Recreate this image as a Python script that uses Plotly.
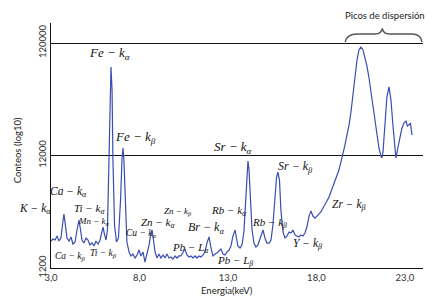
import plotly.graph_objects as go

# Spectrum (energy in keV, counts)
energy_kev = [3.00, 3.11, 3.23, 3.34, 3.45, 3.56, 3.65, 3.73, 3.82, 3.90,
              4.02, 4.13, 4.24, 4.36, 4.47, 4.58, 4.67, 4.75, 4.86, 4.98,
              5.09, 5.20, 5.32, 5.43, 5.54, 5.66, 5.77, 5.85, 5.94, 6.02,
              6.11, 6.19, 6.28, 6.33, 6.39, 6.45, 6.50, 6.59, 6.70, 6.81,
              6.93, 7.01, 7.07, 7.12, 7.21, 7.29, 7.41, 7.52, 7.63, 7.75,
              7.86, 7.97, 8.08, 8.20, 8.31, 8.42, 8.54, 8.62, 8.71, 8.79,
              8.88, 8.99, 9.10, 9.21, 9.33, 9.44, 9.55, 9.67, 9.78, 9.89,
              10.01, 10.12, 10.23, 10.34, 10.46, 10.57, 10.68, 10.80, 10.91, 11.02,
              11.14, 11.25, 11.36, 11.47, 11.59, 11.70, 11.81, 11.93, 12.04, 12.15,
              12.27, 12.38, 12.49, 12.60, 12.72, 12.83, 12.94, 13.06, 13.17, 13.28,
              13.40, 13.48, 13.56, 13.68, 13.79, 13.90, 13.99, 14.07, 14.13, 14.19,
              14.27, 14.36, 14.47, 14.58, 14.69, 14.81, 14.92, 14.98, 15.09, 15.20,
              15.32, 15.43, 15.54, 15.66, 15.74, 15.82, 15.91, 15.99, 16.11, 16.22,
              16.33, 16.45, 16.56, 16.67, 16.79, 16.90, 17.01, 17.12, 17.24, 17.35,
              17.46, 17.58, 17.69, 17.80, 17.92, 18.03, 18.14, 18.25, 18.37, 18.48,
              18.59, 18.71, 18.82, 18.93, 19.05, 19.16, 19.27, 19.38, 19.50, 19.61,
              19.72, 19.84, 19.95, 20.06, 20.18, 20.29, 20.40, 20.51, 20.63, 20.74,
              20.85, 20.97, 21.08, 21.19, 21.31, 21.42, 21.53, 21.64, 21.70, 21.76,
              21.87, 21.98, 22.10, 22.21, 22.32, 22.44, 22.49, 22.60, 22.72, 22.83,
              22.94, 23.06, 23.14, 23.23, 23.31, 23.40]

counts = [2085, 2173, 2128, 2307, 2085, 2218, 2891, 3622, 2830, 2218,
          2085, 2265, 1960, 2042, 2612, 3206, 2612, 2128, 2000, 2218,
          2128, 1919, 2000, 1884, 2085, 1960, 2128, 2506, 2775, 2405,
          2128, 2612, 10940, 41400, 73450, 45810, 10940, 2891, 2042, 2218,
          4820, 10940, 13990, 10940, 3936, 2042, 1663, 1535, 1597, 1472,
          1567, 1734, 1535, 1663, 1355, 1567, 1919, 2307, 2612, 2128,
          1663, 1472, 1597, 1472, 1567, 1472, 1597, 1472, 1503, 1443,
          1535, 1472, 1535, 1535, 1631, 1770, 1567, 1503, 1535, 1472,
          1535, 1472, 1535, 1503, 1567, 1663, 2000, 2265, 1807, 1535,
          1597, 1631, 1698, 1770, 1597, 1567, 1663, 1734, 1884, 2307,
          2612, 2218, 1884, 1807, 1919, 2506, 4355, 8551, 10720, 8913,
          4820, 2612, 2000, 1845, 1919, 2218, 2559, 2612, 2218, 2000,
          2000, 2128, 2891, 5346, 7568, 8551, 7262, 3936, 2506, 2218,
          2307, 2506, 2455, 2612, 2355, 2307, 2265, 2355, 2307, 2455,
          2775, 3475, 3855, 3475, 3334, 3475, 3622, 3776, 4094, 4355,
          4732, 5129, 5689, 6295, 6966, 7727, 8913, 10500, 12360, 14860,
          18240, 22390, 29240, 41400, 61100, 84700, 104000, 110400, 104000, 90200,
          75000, 58600, 44000, 31700, 23300, 17500, 14000, 11900, 11400, 12900,
          22400, 39700, 48800, 37300, 22400, 13400, 11400, 14000, 17500, 21000,
          23300, 24300, 21900, 22900, 23300, 18200]

x_tick_vals = [3, 8, 13, 18, 23]
x_tick_text = ["3,0", "8,0", "13,0", "18,0", "23,0"]
y_tick_vals = [1200, 12000, 120000]
y_tick_text = ["1200", "12000", "120000"]

# Peak labels: (text, x keV, log10 y, font size)
peak_labels = [
    ("<i>Fe − k<sub>α</sub></i>", 6.33, 4.99, 13),
    ("<i>Fe − k<sub>β</sub></i>", 7.75, 4.24, 13),
    ("<i>Sr − k<sub>α</sub></i>", 13.3, 4.15, 13),
    ("<i>Sr − k<sub>β</sub></i>", 16.8, 3.975, 12),
    ("<i>Ca − k<sub>α</sub></i>", 4.0, 3.755, 11.5),
    ("<i>Ti − k<sub>α</sub></i>", 5.18, 3.603, 11),
    ("<i>Mn − k<sub>α</sub></i>", 5.45, 3.497, 9),
    ("<i>Ca − k<sub>β</sub></i>", 4.07, 3.185, 9.5),
    ("<i>Ti − k<sub>β</sub></i>", 5.97, 3.21, 9.5),
    ("<i>Cu − k<sub>α</sub></i>", 8.06, 3.385, 9.5),
    ("<i>Zn − k<sub>α</sub></i>", 9.07, 3.48, 11),
    ("<i>Zn − k<sub>β</sub></i>", 10.15, 3.585, 9),
    ("<i>Br − k<sub>α</sub></i>", 11.73, 3.435, 12),
    ("<i>Pb − L<sub>α</sub></i>", 10.9, 3.26, 11),
    ("<i>Rb − k<sub>α</sub></i>", 13.03, 3.585, 11),
    ("<i>Pb − L<sub>β</sub></i>", 13.4, 3.145, 11),
    ("<i>Rb − k<sub>β</sub></i>", 15.37, 3.475, 11),
    ("<i>Y − k<sub>β</sub></i>", 17.52, 3.292, 11.5),
    ("<i>Zr − k<sub>β</sub></i>", 19.84, 3.639, 11.5),
]

line_color = "#3a4db0"
serif = "Liberation Serif"

fig = go.Figure()
fig.add_trace(go.Scatter(x=energy_kev, y=counts, mode="lines",
                         line=dict(color=line_color, width=1.2),
                         showlegend=False, hoverinfo="skip"))

for txt, xv, yv, fs in peak_labels:
    fig.add_annotation(x=xv, y=yv, xref="x", yref="y", text=txt, showarrow=False,
                       font=dict(family=serif, size=fs, color="#111"),
                       xanchor="center", yanchor="middle")

# K label sits left of the y axis
fig.add_annotation(x=-0.043, y=3.605, xref="paper", yref="y",
                   text="<i>K − k<sub>α</sub></i>", showarrow=False,
                   font=dict(family=serif, size=11.5, color="#111"),
                   xanchor="center", yanchor="middle")

fig.add_annotation(x=21.9, y=1.03, xref="x", yref="paper", text="Picos de dispersión",
                   showarrow=False, font=dict(family="Lato", size=9.5, color="#222"),
                   xanchor="center", yanchor="middle")

# axis titles
fig.add_annotation(x=0.473, y=-0.092, xref="paper", yref="paper", text="Energia(keV)",
                   showarrow=False, font=dict(family="Lato", size=9.5, color="#222"),
                   xanchor="center", yanchor="middle")
fig.add_annotation(x=-0.089, y=0.48, xref="paper", yref="paper", text="Conteos (log10)",
                   showarrow=False, textangle=-90,
                   font=dict(family="Lato", size=9.5, color="#222"),
                   xanchor="center", yanchor="middle")

# curly brace over the scattering peaks
fig.add_shape(type="path", xref="x", yref="paper",
              path=("M 19.62,0.922 Q 19.7,0.955 20.3,0.955 L 21.3,0.955 "
                    "Q 21.68,0.955 21.72,0.978 Q 21.76,0.955 22.15,0.955 "
                    "L 23.4,0.955 Q 23.9,0.955 23.96,0.922"),
              line=dict(color="#555", width=1.4))

fig.update_layout(
    width=442, height=299,
    margin=dict(l=51, r=19, t=23, b=31, autoexpand=False),
    paper_bgcolor="white", plot_bgcolor="white",
    font=dict(family="Lato", size=9, color="#333"),
    xaxis=dict(range=[3, 24.02], tickvals=x_tick_vals, ticktext=x_tick_text,
               showgrid=False, zeroline=False, showline=True, linecolor="#111",
               linewidth=1.2, ticks="", tickfont=dict(size=9.5, color="#333"),
               automargin=False),
    yaxis=dict(type="log", range=[3.0792, 5.257], tickvals=y_tick_vals,
               ticktext=y_tick_text, tickangle=-90, showgrid=True,
               gridcolor="#111", gridwidth=1.2, zeroline=False, showline=True,
               linecolor="#111", linewidth=1.2, ticks="",
               tickfont=dict(size=9.5, color="#333"), automargin=False),
)

fig.write_html("out.html", config={"displayModeBar": False},
               post_script="document.body.style.margin='0';document.body.style.padding='0';")
